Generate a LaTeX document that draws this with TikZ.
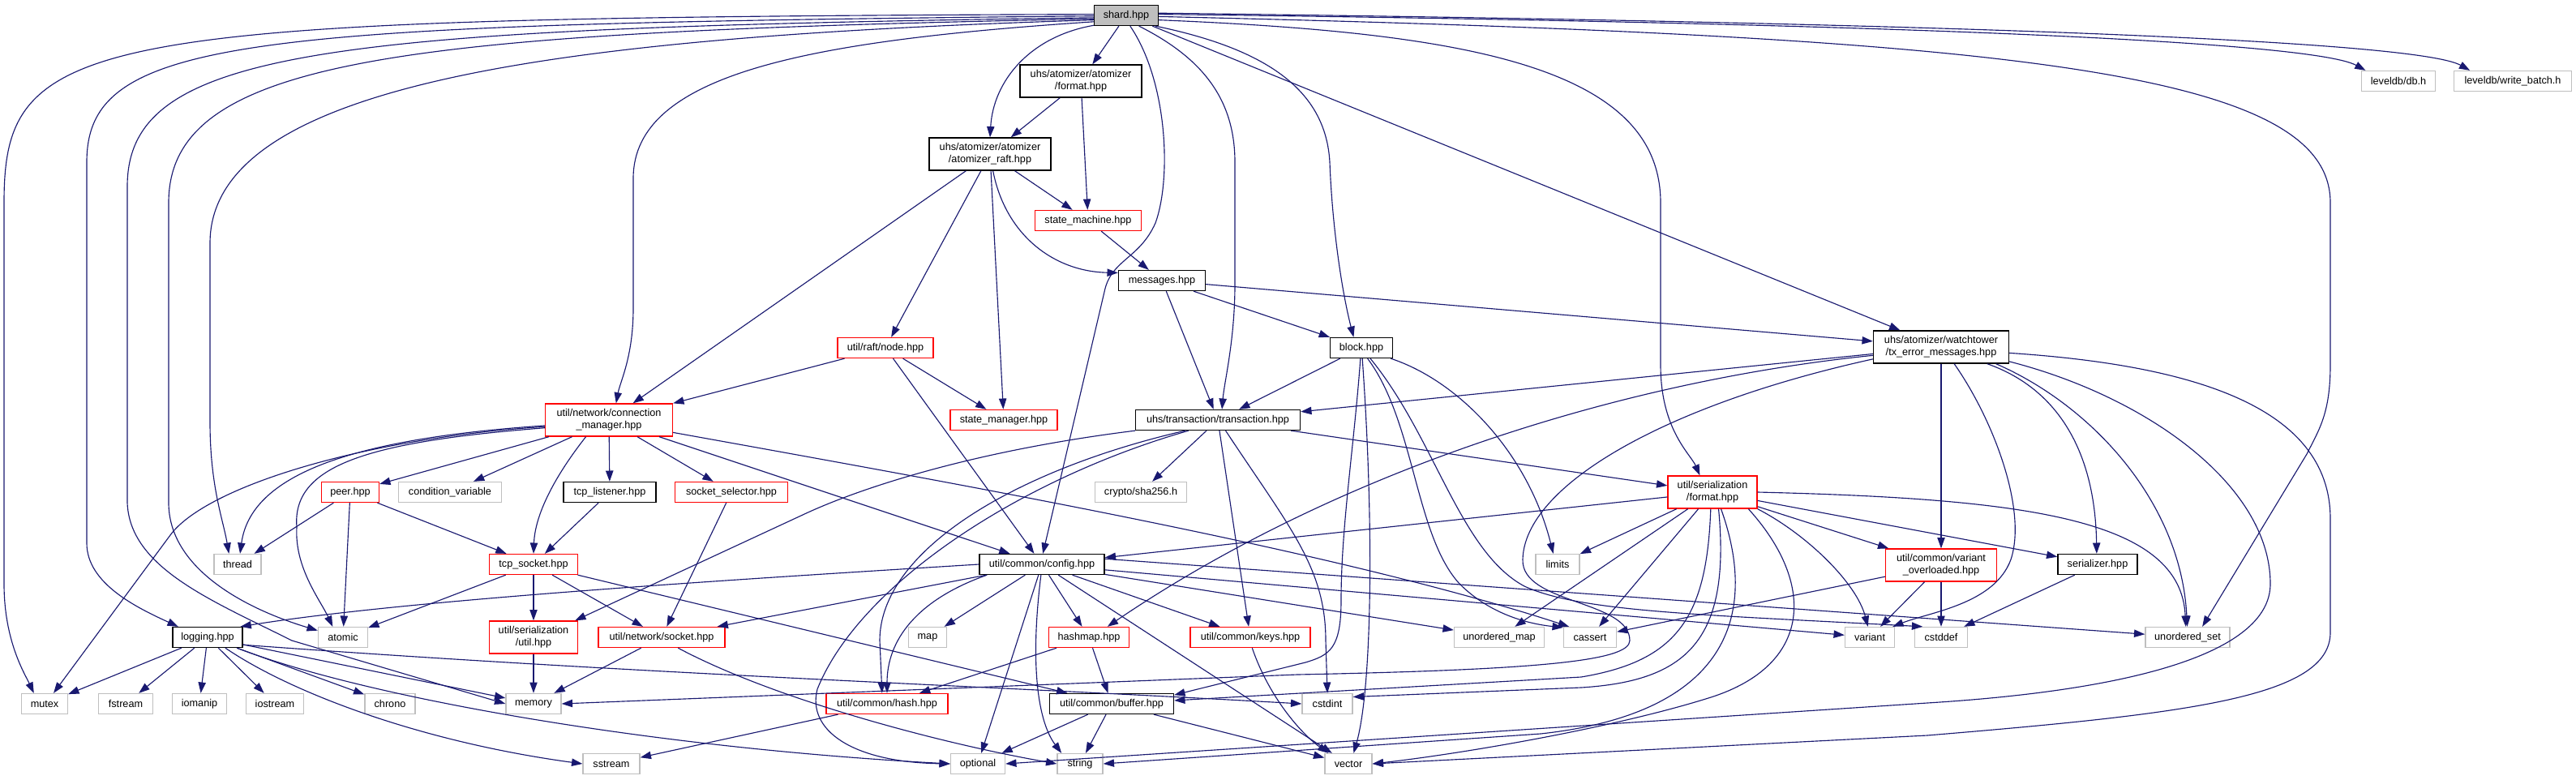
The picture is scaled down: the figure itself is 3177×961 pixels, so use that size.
\documentclass[tikz,border=0pt]{standalone}
\usepackage{fontspec}
\setmainfont{Liberation Sans}
\usepackage{xcolor}
\usepackage{tikz}
\usetikzlibrary{arrows.meta}
\definecolor{midnight}{RGB}{25,25,112}

\begin{document}
\begin{tikzpicture}[x=0.75pt, y=-0.75pt, >={Triangle[length=10pt, width=7pt]},
  box/.style={draw, rectangle, inner sep=0pt, minimum height=18.75pt, align=center,
              font=\fontsize{9.5}{11.5}\selectfont, line width=1pt},
  hdr/.style={box, draw=black},
  hdrred/.style={box, draw=red},
  sys/.style={box, draw=gray!50},
  wd/.style={minimum width=#1*0.75pt},
  tall/.style={minimum height=30pt},
  dep/.style={->, midnight, line width=0.85pt}]
  \useasboundingbox (0,0) rectangle (3177,961);

  \node[hdr, fill=gray!50, wd=79] (shard) at (1389,19) {shard.hpp};
  \node[hdr, tall, wd=150] (aformat) at (1333,100) {uhs/atomizer/atomizer\\/format.hpp};
  \node[hdr, tall, wd=150] (raft) at (1221,190) {uhs/atomizer/atomizer\\/atomizer\_raft.hpp};
  \node[hdrred, wd=131] (machine) at (1342,272) {state\_machine.hpp};
  \node[hdr, wd=107] (messages) at (1433,346) {messages.hpp};
  \node[hdrred, wd=118] (raftnode) at (1092,429) {util/raft/node.hpp};
  \node[hdr, wd=77] (block) at (1679,429) {block.hpp};
  \node[hdr, tall, wd=167] (txerror) at (2394,428) {uhs/atomizer/watchtower\\/tx\_error\_messages.hpp};
  \node[sys, wd=91] (leveldb) at (2958,100) {leveldb/db.h};
  \node[sys, wd=145] (writebatch) at (3099,100) {leveldb/write\_batch.h};
  \node[hdrred, tall, wd=157] (connmgr) at (751,518) {util/network/connection\\\_manager.hpp};
  \node[hdrred, wd=132] (statemgr) at (1238,518) {state\_manager.hpp};
  \node[hdr, wd=203] (transaction) at (1502,518) {uhs/transaction/transaction.hpp};
  \node[hdrred, tall, wd=110] (sformat) at (2112,607) {util/serialization\\/format.hpp};
  \node[hdrred, wd=71] (peer) at (432,607) {peer.hpp};
  \node[sys, wd=127] (condvar) at (555,607) {condition\_variable};
  \node[hdr, wd=114] (listener) at (752,607) {tcp\_listener.hpp};
  \node[hdrred, wd=139] (selector) at (902,607) {socket\_selector.hpp};
  \node[sys, wd=113] (sha) at (1407,607) {crypto/sha256.h};
  \node[sys, wd=58] (thread) at (293,696) {thread};
  \node[hdrred, wd=109] (tcpsocket) at (658,696) {tcp\_socket.hpp};
  \node[hdr, wd=154] (config) at (1285,696) {util/common/config.hpp};
  \node[sys, wd=54] (limits) at (1921,696) {limits};
  \node[hdrred, tall, wd=137] (overloaded) at (2394,697) {util/common/variant\\\_overloaded.hpp};
  \node[hdr, wd=98] (serializer) at (2587,696) {serializer.hpp};
  \node[hdr, wd=86] (logging) at (256,786) {logging.hpp};
  \node[sys, wd=61] (atomic) at (423,786) {atomic};
  \node[hdrred, tall, wd=109] (serutil) at (658,786) {util/serialization\\/util.hpp};
  \node[hdrred, wd=156] (socket) at (816,786) {util/network/socket.hpp};
  \node[sys, wd=47] (map) at (1144,786) {map};
  \node[hdrred, wd=99] (hashmap) at (1343,786) {hashmap.hpp};
  \node[hdrred, wd=148] (keys) at (1542,786) {util/common/keys.hpp};
  \node[sys, wd=111] (umap) at (1849,786) {unordered\_map};
  \node[sys, wd=65] (cassert) at (1961,786) {cassert};
  \node[sys, wd=61] (variant) at (2306,786) {variant};
  \node[sys, wd=65] (cstddef) at (2394,786) {cstddef};
  \node[sys, wd=104] (uset) at (2698,786) {unordered\_set};
  \node[sys, wd=57] (mutex) at (55,868) {mutex};
  \node[sys, wd=67] (fstream) at (155,868) {fstream};
  \node[sys, wd=67] (iomanip) at (246,868) {iomanip};
  \node[sys, wd=71] (iostream) at (339,868) {iostream};
  \node[sys, wd=62] (chrono) at (481,868) {chrono};
  \node[sys, wd=68] (memory) at (658,868) {memory};
  \node[hdrred, wd=150] (hash) at (1094,868) {util/common/hash.hpp};
  \node[hdr, wd=153] (buffer) at (1371,868) {util/common/buffer.hpp};
  \node[sys, wd=62] (cstdint) at (1637,868) {cstdint};
  \node[sys, wd=70] (sstream) at (754,942) {sstream};
  \node[sys, wd=67] (optional) at (1206,942) {optional};
  \node[sys, wd=56] (string) at (1332,942) {string};
  \node[sys, wd=58] (vector) at (1663,942) {vector};

  \draw[dep] (shard.178) .. controls (100,22) and (5,40) .. (5,250) -- (5,720) .. controls (5,790) and (30,830) .. (mutex.135);
  \draw[dep] (shard.181) .. controls (300,30) and (107,45) .. (107,200) -- (107,670) .. controls (107,720) and (170,750) .. (logging.160);
  \draw[dep] (shard.184) .. controls (400,35) and (157,60) .. (157,230) -- (157,620) .. controls (160,700) and (260,740) .. (360,790) -- (memory.west);
  \draw[dep] (shard.186) .. controls (500,40) and (208,70) .. (208,250) -- (208,620) .. controls (208,700) and (300,750) .. (atomic.165);
  \draw[dep] (shard.188) .. controls (700,45) and (259,100) .. (259,300) -- (259,520) .. controls (259,600) and (275,640) .. (thread.129);
  \draw[dep] (shard.191) .. controls (1000,50) and (781,90) .. (781,220) -- (781,380) .. controls (781,440) and (765,470) .. (connmgr.67);
  \draw[dep] (shard.197) .. controls (1270,45) and (1225,100) .. (raft.north);
  \draw[dep] (shard) -- (aformat);
  \draw[dep] (shard.-70) .. controls (1440,100) and (1445,220) .. (1425,275) .. controls (1405,320) and (1370,320) .. (1362,360) -- (config.85);
  \draw[dep] (shard.-40) .. controls (1480,70) and (1523,120) .. (1523,200) -- (1523,350) .. controls (1523,420) and (1510,470) .. (transaction.69);
  \draw[dep] (shard.-20) .. controls (1560,60) and (1635,110) .. (1640,200) .. controls (1643,280) and (1655,360) .. (block.126);
  \draw[dep] (shard) -- (txerror);
  \draw[dep] (shard.-8) .. controls (1800,40) and (2048,80) .. (2048,250) -- (2048,450) .. controls (2048,530) and (2085,560) .. (sformat.127);
  \draw[dep] (shard.-2) .. controls (2500,45) and (2874,90) .. (2874,250) -- (2874,450) .. controls (2874,510) and (2860,530) .. (2845,560) -- (uset.36);
  \draw[dep] (shard.2) .. controls (2300,28) and (2850,50) .. (leveldb.162);
  \draw[dep] (shard.4) .. controls (2400,28) and (2980,50) .. (writebatch.166);

  \draw[dep] (aformat) -- (raft);
  \draw[dep] (aformat) -- (machine);
  \draw[dep] (raft) -- (connmgr);
  \draw[dep] (raft) -- (raftnode);
  \draw[dep] (raft) -- (statemgr);
  \draw[dep] (raft) -- (machine);
  \draw[dep] (raft.-80) .. controls (1240,290) and (1300,335) .. (messages.170);
  \draw[dep] (machine) -- (messages);
  \draw[dep] (messages) -- (block);
  \draw[dep] (messages) -- (transaction);
  \draw[dep] (messages) -- (txerror);
  \draw[dep] (raftnode) -- (connmgr);
  \draw[dep] (raftnode) -- (statemgr);
  \draw[dep] (raftnode) -- (config);

  \draw[dep] (block) -- (transaction);
  \draw[dep] (block.-95) .. controls (1670,550) and (1654,650) .. (1654,740) .. controls (1654,800) and (1640,808) .. (1610,817) -- (buffer.8);
  \draw[dep] (block.-85) .. controls (1695,650) and (1692,850) .. (vector.64);
  \draw[dep] (block.-60) .. controls (1745,520) and (1745,660) .. (1800,720) .. controls (1840,760) and (1890,770) .. (cassert.160);
  \draw[dep] (block.-50) .. controls (1770,540) and (1800,680) .. (1880,723) .. controls (1950,755) and (2100,758) .. (cstddef.150);
  \draw[dep] (block.-20) .. controls (1800,470) and (1885,560) .. (limits.112);

  \draw[dep] (txerror) -- (transaction);
  \draw[dep] (txerror.187) .. controls (2000,470) and (1650,580) .. (hashmap.30);
  \draw[dep] (txerror.190) .. controls (2050,500) and (1880,600) .. (1878,690) .. controls (1876,745) and (2010,740) .. (2010,790) .. controls (2010,815) and (1900,826) .. (1600,832) -- (memory.east);
  \draw[dep] (txerror) -- (overloaded);
  \draw[dep] (txerror.-52) .. controls (2460,520) and (2500,630) .. (2480,690) .. controls (2460,745) and (2380,755) .. (variant.25);
  \draw[dep] (txerror.-20) .. controls (2540,480) and (2584,560) .. (serializer.95);
  \draw[dep] (txerror.-17) .. controls (2580,500) and (2690,620) .. (uset.92);
  \draw[dep] (txerror.-12) .. controls (2650,490) and (2800,600) .. (2800,720) .. controls (2800,800) and (2650,850) .. (2377,867) -- (optional.east);
  \draw[dep] (txerror.-5) .. controls (2700,450) and (2874,500) .. (2874,640) -- (2874,780) .. controls (2874,860) and (2700,880) .. (2377,907) -- (vector.east);

  \draw[dep] (transaction) -- (sformat);
  \draw[dep] (transaction.south west) .. controls (1200,556) and (1060,602) .. (990,635) -- (serutil.22);
  \draw[dep] (transaction.200) .. controls (1260,590) and (1060,720) .. (1008,850) .. controls (995,900) and (1050,940) .. (optional.west);
  \draw[dep] (transaction.198) .. controls (1250,580) and (1085,680) .. (1085,790) -- (hash.115);
  \draw[dep] (transaction) -- (sha);
  \draw[dep] (transaction) -- (keys);
  \draw[dep] (transaction.-54) .. controls (1590,650) and (1635,700) .. (1635,790) -- (cstdint.north);

  \draw[dep] (config.west) .. controls (900,715) and (500,740) .. (logging.18);
  \draw[dep] (config) -- (socket);
  \draw[dep] (config.191) .. controls (1130,740) and (1094,790) .. (hash.north);
  \draw[dep] (config) -- (map);
  \draw[dep] (config) -- (optional);
  \draw[dep] (config.-95) .. controls (1270,820) and (1280,890) .. (string.150);
  \draw[dep] (config) -- (hashmap);
  \draw[dep] (config) -- (vector);
  \draw[dep] (config) -- (keys);
  \draw[dep] (config) -- (umap);
  \draw[dep] (config) -- (variant);
  \draw[dep] (config.5) -- (uset);

  \draw[dep] (sformat) -- (config);
  \draw[dep] (sformat) -- (limits);
  \draw[dep] (sformat) -- (umap);
  \draw[dep] (sformat) -- (cassert);
  \draw[dep] (sformat.-96) .. controls (2105,760) and (2070,815) .. (1950,835) -- (buffer.3);
  \draw[dep] (sformat.-70) .. controls (2135,790) and (2080,840) .. (1950,848) -- (cstdint.15);
  \draw[dep] (sformat.-63) .. controls (2170,760) and (2130,880) .. (1900,905) -- (string.east);
  \draw[dep] (sformat.-25) .. controls (2240,720) and (2235,820) .. (2110,860) .. controls (1990,898) and (1800,930) .. (vector.east);
  \draw[dep] (sformat.south east) .. controls (2230,660) and (2290,720) .. (variant.100);
  \draw[dep] (sformat) -- (overloaded);
  \draw[dep] (sformat) -- (serializer);
  \draw[dep] (sformat.east) .. controls (2500,615) and (2690,640) .. (uset.100);

  \draw[dep] (overloaded) -- (cassert);
  \draw[dep] (overloaded) -- (variant);
  \draw[dep] (overloaded) -- (cstddef);
  \draw[dep] (serializer) -- (cstddef);

  \draw[dep] (hashmap) -- (hash);
  \draw[dep] (hashmap) -- (buffer);
  \draw[dep] (keys.-80) .. controls (1565,860) and (1605,905) .. (vector.152);
  \draw[dep] (hash) -- (sstream);
  \draw[dep] (buffer) -- (optional);
  \draw[dep] (buffer) -- (string);
  \draw[dep] (buffer) -- (vector);

  \draw[dep] (socket) -- (memory);
  \draw[dep] (socket.-33) .. controls (950,860) and (1150,915) .. (string.west);
  \draw[dep] (serutil) -- (memory);
  \draw[dep] (tcpsocket) -- (atomic);
  \draw[dep] (tcpsocket) -- (serutil);
  \draw[dep] (tcpsocket) -- (socket);
  \draw[dep] (tcpsocket) -- (buffer);
  \draw[dep] (listener) -- (tcpsocket);
  \draw[dep] (selector) -- (socket);
  \draw[dep] (peer) -- (thread);
  \draw[dep] (peer) -- (atomic);
  \draw[dep] (peer) -- (tcpsocket);

  \draw[dep] (connmgr) -- (peer);
  \draw[dep] (connmgr) -- (condvar);
  \draw[dep] (connmgr.-144) .. controls (690,580) and (660,630) .. (tcpsocket.north);
  \draw[dep] (connmgr) -- (listener);
  \draw[dep] (connmgr.185) .. controls (450,540) and (310,580) .. (thread.77);
  \draw[dep] (connmgr.186) .. controls (450,540) and (254,600) .. (210,660) -- (mutex.50);
  \draw[dep] (connmgr.187) .. controls (450,545) and (360,575) .. (366,650) .. controls (363,700) and (395,740) .. (atomic.134);
  \draw[dep] (connmgr) -- (selector);
  \draw[dep] (connmgr) -- (config);
  \draw[dep] (connmgr.-11) .. controls (1200,600) and (1650,680) .. (cassert.153);

  \draw[dep] (logging) -- (mutex);
  \draw[dep] (logging) -- (fstream);
  \draw[dep] (logging) -- (iomanip);
  \draw[dep] (logging) -- (iostream);
  \draw[dep] (logging) -- (chrono);
  \draw[dep] (logging) -- (memory);
  \draw[dep] (logging.-20) .. controls (450,860) and (800,922) .. (optional.west);
  \draw[dep] (logging.-31) .. controls (360,855) and (520,915) .. (sstream.west);
  \draw[dep] (logging.-12) .. controls (800,832) and (1200,845) .. (cstdint.west);
\end{tikzpicture}
\end{document}
